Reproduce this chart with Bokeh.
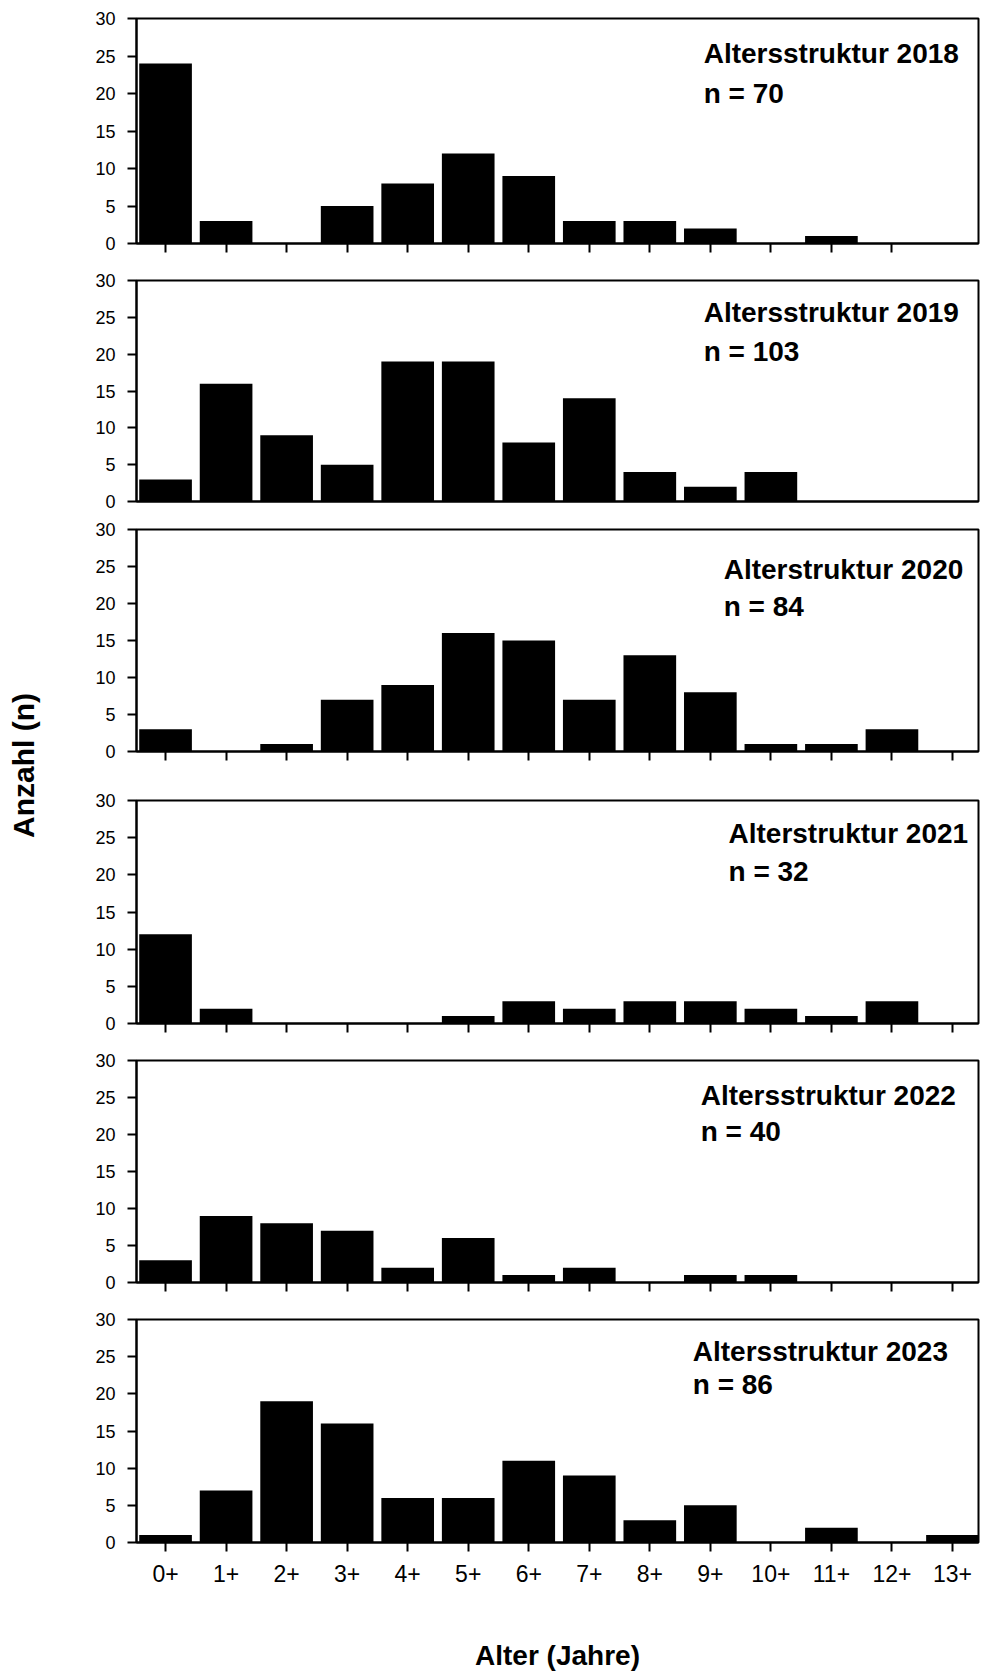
import math
from bokeh.plotting import figure
from bokeh.layouts import column, row
from bokeh.models import Range1d, FixedTicker, Label
from bokeh.embed import file_html
from bokeh.resources import INLINE

# ---------------- data ----------------
ages = ["0+", "1+", "2+", "3+", "4+", "5+", "6+", "7+", "8+", "9+", "10+", "11+", "12+", "13+"]
counts_2018 = [24, 3, 0, 5, 8, 12, 9, 3, 3, 2, 0, 1, 0]
counts_2019 = [3, 16, 9, 5, 19, 19, 8, 14, 4, 2, 4]
counts_2020 = [3, 0, 1, 7, 9, 16, 15, 7, 13, 8, 1, 1, 3, 0]
counts_2021 = [12, 2, 0, 0, 0, 1, 3, 2, 3, 3, 2, 1, 3, 0]
counts_2022 = [3, 9, 8, 7, 2, 6, 1, 2, 0, 1, 1, 0, 0, 0]
counts_2023 = [1, 7, 19, 16, 6, 6, 11, 9, 3, 5, 0, 2, 0, 1]
titles = ["Altersstruktur 2018", "Altersstruktur 2019", "Alterstruktur 2020",
          "Alterstruktur 2021", "Altersstruktur 2022", "Altersstruktur 2023"]
n_labels = ["n = 70", "n = 103", "n = 84", "n = 32", "n = 40", "n = 86"]
y_ticks = [0, 5, 10, 15, 20, 25, 30]
x_title = "Alter (Jahre)"
y_title = "Anzahl (n)"

series = [counts_2018, counts_2019, counts_2020, counts_2021, counts_2022, counts_2023]
# which panels show x tick marks (panel 2019 has none in the original)
show_xticks = [True, False, True, True, True, True]

# ---------------- layout / style ----------------
FONT = "Liberation Sans"
FRAME_W = 842
LEFT = 76
YLAB_W = 60
# (border_top, frame_height, border_bottom)
dims = [(18, 225, 19), (18, 221, 15), (13, 222, 25), (24, 223, 19), (18, 222, 18), (19, 223, 132)]
TOTAL_H = sum(a + b + c for a, b, c in dims)
# text anchor positions (data units): (x, y_title, y_n)
txt_pos = [(8.89, 25.4, 20.0), (8.89, 25.7, 20.4), (9.22, 24.6, 19.6),
           (9.30, 25.6, 20.4), (8.84, 25.3, 20.4), (8.71, 25.7, 21.2)]

figs = []
for i, vals in enumerate(series):
    bt, fh, bb = dims[i]
    last = i == len(series) - 1
    p = figure(frame_width=FRAME_W, frame_height=fh,
               min_border_left=LEFT, min_border_right=3,
               min_border_top=bt, min_border_bottom=bb,
               x_range=Range1d(-0.48, 13.43), y_range=Range1d(0, 30),
               output_backend="svg", toolbar_location=None, tools="")
    xs = list(range(len(vals)))
    p.vbar(x=xs, top=vals, width=0.87, fill_color="black", line_color=None)
    p.grid.visible = False
    p.outline_line_color = "black"
    p.outline_line_width = 2
    p.background_fill_color = "white"
    p.border_fill_color = "white"

    ya = p.yaxis[0]
    ya.ticker = FixedTicker(ticks=y_ticks, minor_ticks=[])
    ya.major_tick_out = 9
    ya.major_tick_in = 0
    ya.minor_tick_out = 0
    ya.minor_tick_in = 0
    ya.axis_line_width = 2
    ya.major_tick_line_width = 2
    ya.major_label_text_font = FONT
    ya.major_label_text_font_size = "18px"
    ya.major_label_text_color = "black"
    ya.major_label_standoff = 12

    xa = p.xaxis[0]
    xa.ticker = FixedTicker(ticks=xs if show_xticks[i] else [], minor_ticks=[])
    xa.major_tick_out = 9
    xa.major_tick_in = 0
    xa.minor_tick_out = 0
    xa.minor_tick_in = 0
    xa.axis_line_width = 2
    xa.major_tick_line_width = 2
    if last:
        xa.major_label_overrides = {k: ages[k] for k in xs}
        xa.major_label_text_font = FONT
        xa.major_label_text_font_size = "23px"
        xa.major_label_text_color = "black"
        xa.major_label_standoff = 13
        xa.axis_label = x_title
        xa.axis_label_text_font = FONT
        xa.axis_label_text_font_size = "28px"
        xa.axis_label_text_font_style = "bold"
        xa.axis_label_text_color = "black"
        xa.axis_label_standoff = 55
    else:
        xa.major_label_text_font_size = "0px"
        xa.major_label_text_color = None
        xa.major_label_standoff = 0

    tx, ty1, ty2 = txt_pos[i]
    for txt, ty in ((titles[i], ty1), (n_labels[i], ty2)):
        p.add_layout(Label(x=tx, y=ty, text=txt, text_font=FONT,
                           text_font_size="28px", text_font_style="bold",
                           text_color="black", text_baseline="middle",
                           text_align="left"))
    figs.append(p)

# y-axis title as a narrow side figure
yl = figure(width=YLAB_W, height=TOTAL_H, x_range=Range1d(0, YLAB_W),
            y_range=Range1d(0, TOTAL_H), min_border=0,
            x_axis_type=None, y_axis_type=None,
            output_backend="svg", toolbar_location=None, tools="")
yl.grid.visible = False
yl.outline_line_color = None
yl.add_layout(Label(x=23, y=TOTAL_H - 765, text=y_title, angle=math.pi / 2,
                    text_font=FONT, text_font_size="30px", text_font_style="bold",
                    text_color="black", text_align="center", text_baseline="middle"))

layout = row(yl, column(*figs))
open("out.html", "w").write(file_html(layout, INLINE))
